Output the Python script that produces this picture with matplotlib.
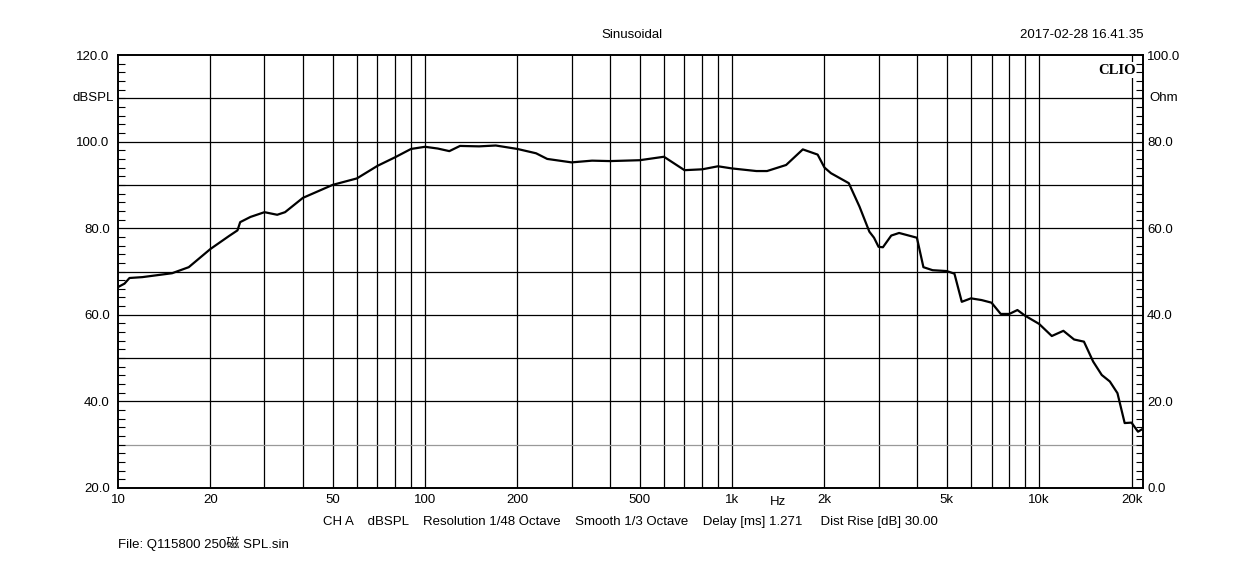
import matplotlib
matplotlib.use("Agg")
import matplotlib.pyplot as plt
import numpy as np

freq = [10, 10.5, 10.9, 12, 15, 17, 20, 23, 24.5, 25, 27, 30, 33, 35, 40, 50, 60, 70, 80, 90,
        100, 110, 120, 130, 150, 170, 200, 230, 250, 300, 350, 400, 500, 600, 700, 800, 900,
        1000, 1200, 1300, 1500, 1700, 1900, 2000, 2100, 2200, 2400, 2600, 2800, 2900, 3000,
        3100, 3300, 3500, 4000, 4200, 4500, 5000, 5300, 5600, 6000, 6500, 7000, 7500, 8000,
        8500, 9000, 10000, 11000, 12000, 13000, 14000, 15000, 16000, 17000, 18000, 19000,
        20000, 21000, 21800]
spl = [66.4, 67.2, 68.5, 68.7, 69.6, 71.0, 75.2, 78.2, 79.5, 81.4, 82.6, 83.7, 83.1, 83.7,
       87.0, 90.0, 91.5, 94.4, 96.4, 98.3, 98.8, 98.4, 97.8, 99.0, 98.9, 99.1, 98.3, 97.3,
       96.0, 95.2, 95.6, 95.5, 95.7, 96.5, 93.4, 93.6, 94.3, 93.8, 93.2, 93.2, 94.6, 98.2,
       97.0, 94.0, 92.7, 91.9, 90.4, 85.0, 79.2, 77.8, 75.7, 75.6, 78.3, 78.9, 77.8, 71.0,
       70.3, 70.1, 69.5, 63.0, 63.8, 63.4, 62.8, 60.2, 60.2, 61.1, 59.8, 57.9, 55.1, 56.3,
       54.3, 53.8, 49.2, 46.1, 44.6, 41.9, 35.0, 35.1, 33.0, 33.7]
xtick_vals = [10, 20, 50, 100, 200, 500, 1000, 2000, 5000, 10000, 20000]
xtick_labels = ["10", "20", "50", "100", "200", "500", "1k", "2k", "5k", "10k", "20k"]
left_ticks = [20, 40, 60, 80, 100, 120]
right_labels = ["0.0", "20.0", "40.0", "60.0", "80.0", "100.0"]

plt.rcParams['font.family'] = ['Liberation Sans', 'Noto Sans CJK SC', 'DejaVu Sans']
fs = 9.5
fig = plt.figure(figsize=(12.33, 5.8), dpi=100)
ax = fig.add_axes([118/1233, 92/580, 1025/1233, 433/580])
ax.set_xscale('log')
ax.set_xlim(10, 21800)
ax.set_ylim(20, 120)

grid_f = [m * 10**e for e in range(1, 5) for m in range(1, 10) if m * 10**e <= 20000]
for f in grid_f:
    if f > 10:
        ax.axvline(f, color='black', lw=0.9, zorder=1)
for yv in range(30, 120, 10):
    ax.axhline(yv, color='#999999' if yv == 30 else 'black', lw=0.9, zorder=1)

ax.plot(freq, spl, color='black', lw=1.6, zorder=3)

ax.set_xticks(xtick_vals)
ax.set_xticklabels(xtick_labels, fontsize=fs)
ax.xaxis.set_minor_locator(matplotlib.ticker.NullLocator())
ax.tick_params(axis='x', length=0, pad=4)
ax.set_yticks(left_ticks)
ax.set_yticklabels([f"{v:.1f}" for v in left_ticks], fontsize=fs)
ax.set_yticks(np.arange(20, 121, 2), minor=True)
ax.tick_params(axis='y', which='major', length=0, pad=6)
ax.tick_params(axis='y', which='minor', length=5, direction='in', width=0.8)
ax.text(-0.004, 0.9, "dBSPL", transform=ax.transAxes, ha='right', va='center', fontsize=fs)

ax2 = ax.twinx()
ax2.set_ylim(0, 100)
ax2.set_yticks([0, 20, 40, 60, 80, 100])
ax2.set_yticklabels(right_labels, fontsize=fs)
ax2.set_yticks(np.arange(0, 101, 2), minor=True)
ax2.tick_params(axis='y', which='major', length=0, pad=3)
ax2.tick_params(axis='y', which='minor', length=5, direction='in', width=0.8)
ax2.text(1.006, 0.9, "Ohm", transform=ax.transAxes, ha='left', va='center', fontsize=fs)
for a in (ax, ax2):
    for s in a.spines.values():
        s.set_linewidth(1.2)

ax.text(0.9935, 0.98, "CLIO", transform=ax.transAxes, ha='right', va='top',
        fontsize=10.5, fontweight='bold', family='Liberation Serif',
        bbox=dict(facecolor='white', edgecolor='none', pad=1), zorder=5)
ax.text(1410, 20 - 8 / 4.33, "Hz", ha='center', va='top', fontsize=fs, clip_on=False)

fig.text(632/1233, 1 - 35/580, "Sinusoidal", ha='center', va='center', fontsize=fs)
fig.text(1143/1233, 1 - 35/580, "2017-02-28 16.41.35", ha='right', va='center', fontsize=fs)
fig.text(630/1233, 1 - 522/580,
         "CH A    dBSPL    Resolution 1/48 Octave    Smooth 1/3 Octave    Delay [ms] 1.271     Dist Rise [dB] 30.00",
         ha='center', va='center', fontsize=fs)
fig.text(118/1233, 1 - 544/580, "File: Q115800 250磁 SPL.sin", ha='left', va='center', fontsize=fs)

fig.savefig("out.png", dpi=100)
